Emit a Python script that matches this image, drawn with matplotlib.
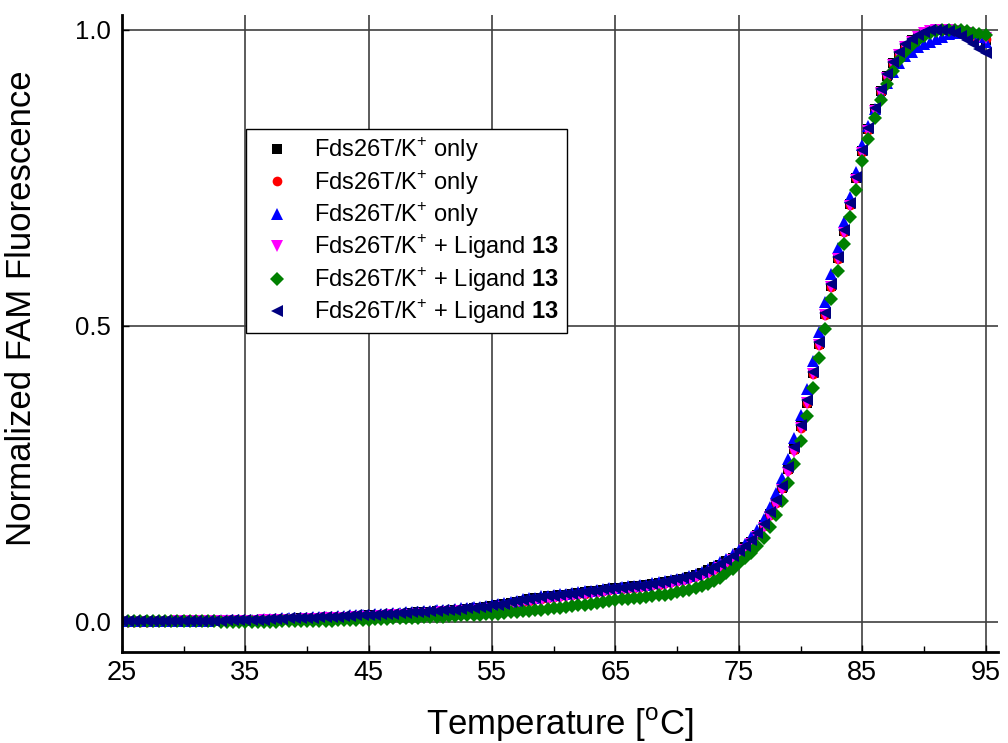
import numpy as np
import matplotlib
matplotlib.use('Agg')
import matplotlib.pyplot as plt
from matplotlib.ticker import MultipleLocator

plt.rcParams['font.family'] = ['Liberation Sans', 'DejaVu Sans']
plt.rcParams['mathtext.fontset'] = 'custom'
plt.rcParams['mathtext.rm'] = 'Liberation Sans'
plt.rcParams['mathtext.bf'] = 'Liberation Sans:bold'

# temperature grid, 25 -> 95 C in 0.5 C steps
temperature = np.arange(25.0, 95.01, 0.5)

# normalized FAM fluorescence, in thousandths
k_only_1 = [0, 0, 0, 0, 1, 1, 1, 1, 1, 1, 1, 1, 1, 2, 2, 2, 2, 2, 2, 3,
            3, 3, 3, 4, 4, 4, 5, 5, 5, 6, 6, 6, 7, 7, 8, 8, 9, 9, 10, 10,
            11, 11, 12, 12, 13, 14, 14, 15, 16, 16, 17, 18, 19, 19, 20, 21, 22, 23, 24, 25,
            27, 28, 30, 32, 34, 36, 38, 40, 41, 43, 44, 45, 46, 48, 49, 50, 52, 53, 54, 56,
            57, 58, 59, 60, 61, 62, 64, 65, 67, 69, 71, 73, 76, 79, 83, 87, 92, 97, 103, 108,
            116, 126, 135, 147, 163, 183, 203, 227, 258, 292, 330, 370, 420, 470, 520, 567, 614, 660, 705, 750,
            795, 832, 866, 896, 922, 943, 959, 972, 982, 990, 995, 998, 1000, 1000, 999, 997, 995, 992, 989, 986,
            983]
k_only_2 = [0, 0, 0, 0, 0, 1, 1, 1, 1, 1, 1, 1, 1, 1, 2, 2, 2, 2, 2, 2,
            3, 3, 3, 3, 4, 4, 4, 5, 5, 5, 6, 6, 6, 7, 7, 8, 8, 9, 9, 10,
            10, 11, 11, 12, 12, 13, 14, 14, 15, 16, 16, 17, 18, 19, 19, 20, 21, 22, 23, 24,
            25, 27, 28, 30, 32, 34, 36, 38, 39, 41, 42, 43, 45, 46, 47, 48, 50, 51, 52, 54,
            55, 56, 57, 58, 59, 60, 62, 63, 65, 67, 69, 71, 74, 77, 81, 85, 90, 95, 101, 107,
            115, 124, 134, 146, 162, 181, 201, 226, 256, 290, 328, 369, 418, 468, 518, 566, 613, 659, 704, 749,
            794, 831, 865, 895, 921, 942, 958, 971, 981, 989, 994, 998, 1000, 1000, 999, 998, 996, 993, 990, 987,
            984]
k_only_3 = [1, 1, 1, 1, 1, 1, 1, 1, 2, 2, 2, 2, 2, 2, 2, 3, 3, 3, 3, 3,
            4, 4, 4, 5, 5, 5, 6, 6, 6, 7, 7, 8, 8, 9, 9, 10, 10, 11, 11, 12,
            12, 13, 13, 14, 15, 15, 16, 17, 17, 18, 19, 20, 21, 21, 22, 23, 24, 25, 26, 27,
            29, 30, 32, 34, 36, 38, 40, 41, 43, 44, 45, 47, 48, 49, 50, 52, 53, 54, 55, 57,
            58, 59, 60, 61, 62, 63, 65, 67, 69, 71, 73, 75, 78, 81, 85, 90, 95, 101, 107, 114,
            122, 132, 143, 156, 173, 194, 217, 243, 275, 310, 350, 393, 440, 490, 540, 588, 632, 676, 718, 760,
            805, 838, 866, 890, 910, 928, 943, 955, 962, 970, 976, 980, 984, 988, 992, 995, 997, 997, 994, 988,
            980]
ligand_1 = [0, 0, 0, 0, 0, 0, 0, 0, 0, 1, 1, 1, 1, 1, 1, 1, 1, 2, 2, 2,
            2, 2, 2, 3, 3, 3, 3, 4, 4, 4, 5, 5, 5, 6, 6, 7, 7, 7, 8, 8,
            9, 9, 10, 10, 11, 11, 12, 12, 13, 14, 14, 15, 16, 16, 17, 18, 18, 19, 20, 21,
            22, 23, 25, 26, 28, 30, 31, 33, 34, 36, 37, 38, 40, 41, 42, 43, 45, 46, 47, 49,
            50, 51, 52, 53, 54, 55, 57, 58, 60, 62, 64, 66, 69, 72, 76, 80, 85, 91, 97, 104,
            112, 121, 131, 143, 158, 177, 197, 222, 252, 287, 327, 370, 418, 468, 518, 566, 612, 657, 702, 747,
            792, 829, 863, 893, 919, 940, 957, 970, 980, 988, 994, 998, 1000, 1000, 999, 998, 996, 994, 991, 988,
            986]
ligand_2 = [2, 2, 2, 2, 2, 2, 2, 2, 1, 1, 1, 1, 1, 1, 1, 1, 0, 0, 0, 0,
            0, 0, 0, 0, 0, 0, 1, 1, 1, 1, 1, 2, 2, 2, 2, 3, 3, 3, 4, 4,
            4, 5, 5, 5, 6, 6, 7, 7, 7, 8, 8, 9, 9, 10, 10, 11, 11, 12, 12, 13,
            14, 14, 15, 16, 17, 18, 19, 20, 21, 22, 23, 24, 25, 27, 28, 29, 31, 32, 33, 35,
            37, 38, 39, 40, 41, 42, 43, 45, 46, 48, 50, 52, 54, 57, 60, 64, 69, 75, 82, 90,
            100, 108, 117, 128, 142, 160, 181, 205, 234, 267, 305, 347, 395, 445, 495, 545, 592, 638, 684, 730,
            778, 816, 851, 882, 909, 931, 949, 963, 974, 983, 989, 994, 997, 999, 1000, 1000, 999, 997, 995, 993,
            991]
ligand_3 = [1, 1, 1, 1, 1, 1, 1, 1, 1, 1, 2, 2, 2, 2, 2, 2, 2, 3, 3, 3,
            3, 4, 4, 4, 5, 5, 5, 6, 6, 6, 7, 7, 8, 8, 9, 9, 10, 10, 11, 11,
            12, 12, 13, 13, 14, 15, 15, 16, 17, 17, 18, 19, 20, 20, 21, 22, 23, 24, 25, 26,
            28, 29, 31, 33, 35, 37, 39, 40, 42, 43, 44, 46, 47, 48, 49, 51, 52, 53, 55, 56,
            57, 58, 59, 60, 61, 63, 64, 66, 68, 70, 72, 74, 77, 80, 84, 88, 93, 98, 104, 111,
            119, 128, 138, 150, 166, 185, 206, 230, 261, 295, 333, 374, 422, 472, 522, 570, 617, 662, 707, 752,
            797, 834, 868, 899, 925, 946, 962, 975, 984, 991, 996, 999, 1000, 999, 997, 994, 989, 983, 976, 968,
            960]

labels = [r'Fds26T/K$^{+}$ only', r'Fds26T/K$^{+}$ only', r'Fds26T/K$^{+}$ only',
          r'Fds26T/K$^{+}$ + Ligand $\mathbf{13}$', r'Fds26T/K$^{+}$ + Ligand $\mathbf{13}$',
          r'Fds26T/K$^{+}$ + Ligand $\mathbf{13}$']
series = [k_only_1, k_only_2, k_only_3, ligand_1, ligand_2, ligand_3]
colors = ['black', 'red', 'blue', 'magenta', 'green', 'navy']
markers = ['s', 'o', '^', 'v', 'D', '<']
sizes = [6.5, 7, 9, 9, 7, 9]

x_ticks = [25, 35, 45, 55, 65, 75, 85, 95]
y_ticks = [0.0, 0.5, 1.0]

fig = plt.figure(figsize=(10.08, 7.43), dpi=100)
ax = fig.add_axes([0.121, 0.1225, 0.869, 0.8575])

for vals, c, m, s, lab in zip(series, colors, markers, sizes, labels):
    ax.plot(temperature, np.array(vals) / 1000.0, linestyle='none', marker=m,
            markersize=s, color=c, markeredgewidth=0, label=lab)

ax.set_xlim(25, 96)
ax.set_ylim(-0.0507, 1.025)
ax.set_xticks(x_ticks)
ax.set_xticklabels([str(t) for t in x_ticks])
ax.xaxis.set_minor_locator(MultipleLocator(5))
ax.set_yticks(y_ticks)
ax.set_yticklabels(['0.0', '0.5', '1.0'])
ax.grid(True, which='major', color='0.25', linewidth=1.2)
ax.set_axisbelow(True)

for side in ['top', 'right']:
    ax.spines[side].set_visible(False)
for side in ['left', 'bottom']:
    ax.spines[side].set_linewidth(2)
ax.tick_params(axis='both', which='major', direction='in', length=5, width=1)
ax.tick_params(axis='x', which='major', pad=6, labelsize=19.5)
ax.tick_params(axis='y', which='major', pad=8, labelsize=18.5)
ax.tick_params(axis='x', which='minor', direction='in', length=4, width=1)

ax.set_xlabel(r'Temperature [$^{\mathrm{o}}$C]', fontsize=25, labelpad=14)
ax.set_ylabel('Normalized FAM Fluorescence', fontsize=25)
ax.yaxis.set_label_coords(-0.096, 0.54)

leg = ax.legend(loc='upper left', bbox_to_anchor=(0.1416, 0.8215), borderaxespad=0,
                fontsize=17, frameon=True, fancybox=False, framealpha=1, edgecolor='black',
                numpoints=1, handletextpad=0.6, labelspacing=0.16, borderpad=0.3,
                handlelength=2.0)
leg.get_frame().set_linewidth(1)

fig.savefig('out.png', dpi=100)
